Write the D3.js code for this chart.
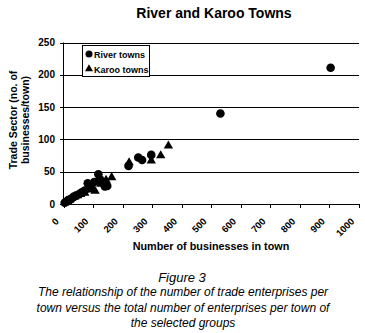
<!DOCTYPE html>
<html>
<head>
<meta charset="utf-8">
<script src="https://cdn.jsdelivr.net/npm/d3@7"></script>
<style>
  body { margin:0; background:#fff; }
  text { font-family: Arial, "Liberation Sans", sans-serif; fill:#000; }
</style>
</head>
<body>
<script>
    // River towns: [total businesses, trade businesses]
    var riverTowns = [[4,2],[8,3],[12,4],[16,6],[22,7],[28,9],[34,11],[42,13],[52,15],[62,18],[72,21],[82,32],[92,27],[104,34],[118,46],[124,38],[134,33],[140,27],[148,28],[220,59],[253,72],[266,68],[297,76],[531,140],[904,211]];
    // Karoo towns
    var karooTowns = [[6,3],[14,4],[20,6],[28,9],[38,11],[48,13],[58,15],[72,17],[88,22],[107,20],[126,31],[144,37],[163,41],[222,64],[297,67],[329,75],[355,90]];
    var xTicks = [0,100,200,300,400,500,600,700,800,900,1000];
    var yTicks = [0,50,100,150,200,250];
    var legendLabels = ["River towns","Karoo towns"];

    var w = 365, h = 333;
    var svg = d3.select("body").append("svg").attr("width", w).attr("height", h);

    var x = d3.scaleLinear().domain([0,1000]).range([63.5,359]);
    var y = d3.scaleLinear().domain([0,250]).range([204,42.5]);

    svg.append("text").attr("x",214).attr("y",17.5).attr("text-anchor","middle")
       .style("font-size","14px").style("font-weight","bold").text("River and Karoo Towns");

    // gridlines
    svg.selectAll("line.grid").data(yTicks).enter().append("line")
       .attr("x1", 60).attr("x2", 359)
       .attr("y1", function(d){ return Math.round(y(d))+0.5; })
       .attr("y2", function(d){ return Math.round(y(d))+0.5; })
       .attr("stroke","#000").attr("stroke-width",1);

    // y axis line
    svg.append("line").attr("x1",63.5).attr("x2",63.5).attr("y1",y(250)).attr("y2",y(0)+0.5)
       .attr("stroke","#000");

    svg.selectAll("text.ytick").data(yTicks).enter().append("text")
       .attr("x",55).attr("y", function(d){ return y(d)+3.5; })
       .attr("text-anchor","end").style("font-size","10px").style("font-weight","bold")
       .text(function(d){ return d; });

    // x ticks
    svg.selectAll("line.xtick").data(xTicks).enter().append("line")
       .attr("x1", function(d){ return Math.round(x(d))+0.5; })
       .attr("x2", function(d){ return Math.round(x(d))+0.5; })
       .attr("y1", y(0)).attr("y2", y(0)+4)
       .attr("stroke","#000");

    svg.selectAll("text.xtick").data(xTicks).enter().append("text")
       .attr("text-anchor","end")
       .attr("transform", function(d){ return "translate(" + (x(d)-4) + "," + (y(0)+18) + ") rotate(-45)"; })
       .style("font-size","9.5px").style("font-weight","bold")
       .text(function(d){ return d; });

    // y label
    var yl = svg.append("text").attr("transform","translate(17,120) rotate(-90)")
       .attr("text-anchor","middle").style("font-size","10.5px").style("font-weight","bold");
    yl.append("tspan").attr("x",0).attr("dy",0).text("Trade Sector (no. of");
    yl.append("tspan").attr("x",0).attr("dy",12).text("businesses/town)");

    svg.append("text").attr("x",211).attr("y",250).attr("text-anchor","middle")
       .style("font-size","10.8px").style("font-weight","bold").text("Number of businesses in town");

    // points
    svg.selectAll("circle.river").data(riverTowns).enter().append("circle")
       .attr("cx", function(d){ return x(d[0]); })
       .attr("cy", function(d){ return y(d[1]); })
       .attr("r", 4.3).attr("fill","#000");

    var tri = d3.symbol().type(d3.symbolTriangle).size(38);
    svg.selectAll("path.karoo").data(karooTowns).enter().append("path")
       .attr("d", tri)
       .attr("transform", function(d){ return "translate(" + x(d[0]) + "," + y(d[1]) + ")"; })
       .attr("fill","#000");

    // legend
    var lg = svg.append("g");
    lg.append("rect").attr("x",82.5).attr("y",45.5).attr("width",67).attr("height",31)
       .attr("fill","#fff").attr("stroke","#000");
    lg.append("circle").attr("cx",89).attr("cy",54).attr("r",3.5).attr("fill","#000");
    lg.append("path").attr("d", d3.symbol().type(d3.symbolTriangle).size(28)).attr("transform","translate(89,69)");
    lg.selectAll("text").data(legendLabels).enter().append("text")
       .attr("x",94).attr("y", function(d,i){ return 57.5 + i*15; })
       .style("font-size","9px").style("font-weight","bold")
       .text(function(d){ return d; });

    // caption
    var cap = ["The relationship of the number of trade enterprises per",
               "town versus the total number of enterprises per town of",
               "the selected groups"];
    svg.append("text").attr("x",182).attr("y",282).attr("text-anchor","middle")
       .style("font-size","13px").style("font-style","italic").text("Figure 3");
    svg.selectAll("text.cap").data(cap).enter().append("text")
       .attr("x",183).attr("y", function(d,i){ return 296 + i*15.5; })
       .attr("text-anchor","middle").style("font-size","12px").style("font-style","italic")
       .text(function(d){ return d; });
</script>
</body>
</html>
